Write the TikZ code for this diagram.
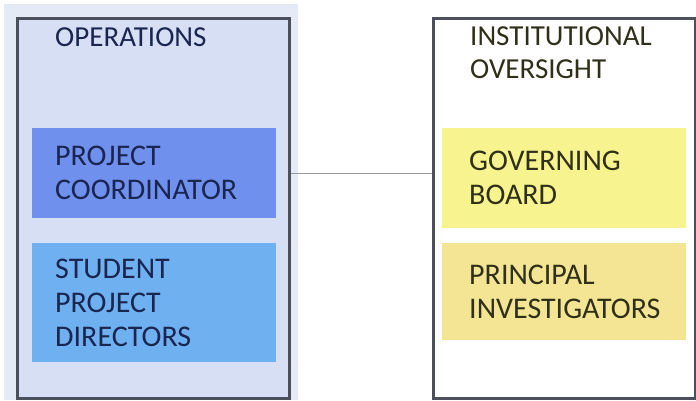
\documentclass[tikz,border=0pt]{standalone}
\usepackage{fontspec}
\setmainfont{Carlito}
\usetikzlibrary{positioning}

\definecolor{panelBlue}{HTML}{E4EAF6}
\definecolor{frameBlue}{HTML}{D6DFF4}
\definecolor{coordBlue}{HTML}{7090EE}
\definecolor{studentBlue}{HTML}{6FB1F0}
\definecolor{boardYellow}{HTML}{F7F38E}
\definecolor{piYellow}{HTML}{F4E594}
\definecolor{navyText}{HTML}{1A2550}
\definecolor{oliveText}{HTML}{30301A}
\definecolor{frameGray}{HTML}{4C505C}

\begin{document}
\begin{tikzpicture}
[x=1pt,y=-1pt,
  frameDecorate/.style={shape=rectangle,draw=frameGray,line width=2.6pt,anchor=north west,inner sep=0pt},%
  boxDecorate/.style={shape=rectangle,anchor=north west,inner sep=0pt,minimum width=244pt,
    text width=244pt-2*#1,align=left,font=\fontsize{30}{34}\selectfont},%
  titleDecorate/.style={anchor=north west,inner sep=0pt,align=left,font=\fontsize{29}{33}\selectfont},%
  lineDecorate/.style={-,draw=gray!80,line width=1.2pt}]
\useasboundingbox (0,0) rectangle (696,400);
%% background panel and frames
\node (panel) at (4,4) [anchor=north west,fill=panelBlue,minimum width=294pt,minimum height=396pt,inner sep=0pt] {};
\node (ops) at (16,17) [frameDecorate,fill=frameBlue,minimum width=272pt,minimum height=380pt] {};
\node (oversight) at (432,17) [frameDecorate,fill=white,minimum width=262pt,minimum height=380pt] {};
%% titles
\node (opstitle) at (55,27) [titleDecorate,text=navyText] {OPERATIONS};
\node (overtitle) at (470,26) [titleDecorate,text=oliveText] {INSTITUTIONAL\\OVERSIGHT};
%% inner boxes
\node (pc) at (32,128) [boxDecorate=23pt,fill=coordBlue,text=navyText,minimum height=90pt] {PROJECT\\COORDINATOR};
\node (spd) at (32,243) [boxDecorate=23pt,fill=studentBlue,text=navyText,minimum height=119pt] {STUDENT\\PROJECT\\DIRECTORS};
\node (gb) at (442,128) [boxDecorate=27pt,fill=boardYellow,text=oliveText,minimum height=100pt] {GOVERNING\\BOARD};
\node (pi) at (442,243) [boxDecorate=27pt,fill=piYellow,text=oliveText,minimum height=97pt] {PRINCIPAL\\INVESTIGATORS};
%% connector
\draw[lineDecorate] (ops.east |- pc.east) -- (oversight.west |- pc.east);
\end{tikzpicture}
\end{document}
